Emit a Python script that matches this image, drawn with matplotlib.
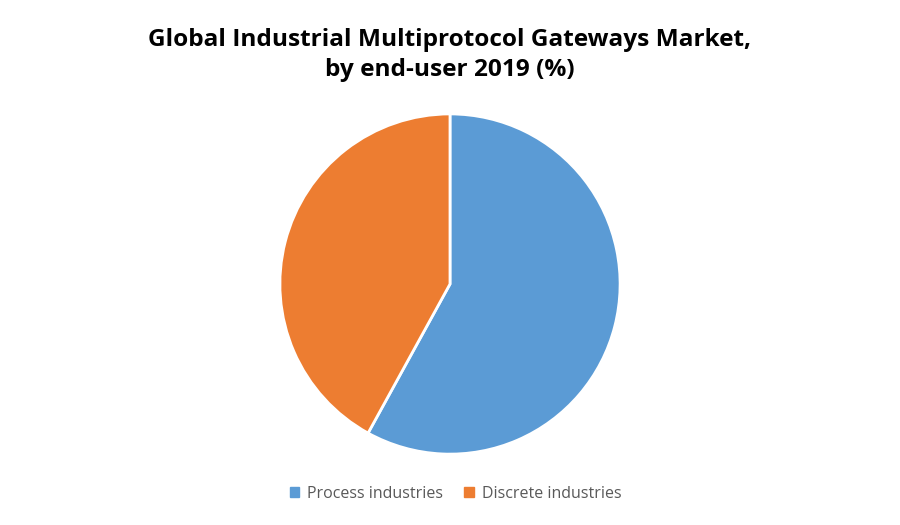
import matplotlib.pyplot as plt
from matplotlib.patches import Patch

# data
labels = ["Process industries", "Discrete industries"]
shares = [58, 42]
colors = ["#5B9BD5", "#ED7D31"]

title = "Global Industrial Multiprotocol Gateways Market,\nby end-user 2019 (%)"

plt.rcParams['font.family'] = ['Open Sans', 'DejaVu Sans']

fig = plt.figure(figsize=(9, 5.25), dpi=100)
ax = fig.add_axes([0.311, 0.135, 0.378, 0.648])

ax.pie(shares, colors=colors, startangle=90, counterclock=False,
       wedgeprops=dict(edgecolor="white", linewidth=2))
ax.set_aspect("equal")
ax.set_xlim(-1.0, 1.0)
ax.set_ylim(-1.0, 1.0)

fig.text(0.5, 0.895, title, ha="center", va="center", fontsize=17.6,
         fontweight="bold", linespacing=1.35, color="black")

handles = [Patch(facecolor=c, edgecolor=c) for c in colors]
fig.legend(handles, labels, loc="center", bbox_to_anchor=(0.506, 0.059),
           ncol=2, frameon=False, fontsize=11.5, handlelength=0.6,
           handleheight=0.6, handletextpad=0.5, columnspacing=1.3,
           labelcolor="#595959")

fig.savefig("out.png", dpi=100)
